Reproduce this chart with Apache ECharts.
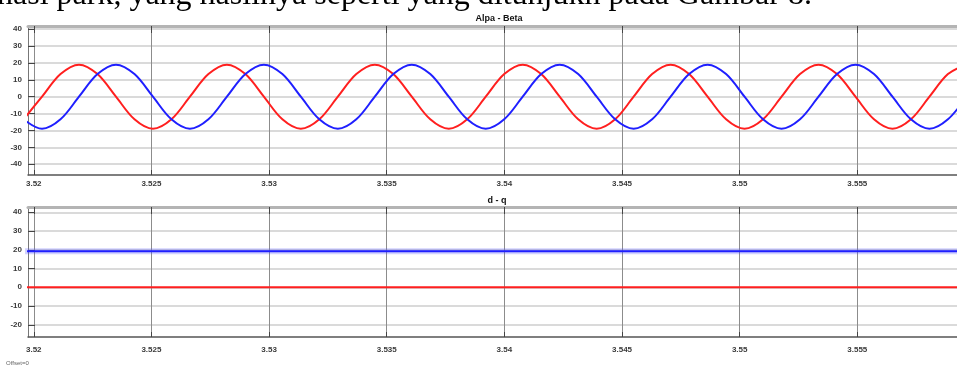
<!DOCTYPE html>
<html>
<head>
<meta charset="utf-8">
<script src="https://cdn.jsdelivr.net/npm/echarts@6/dist/echarts.min.js"></script>
<style>
  html, body { margin: 0; padding: 0; background: #fff; }
  #main { width: 957px; height: 367px; }
</style>
</head>
<body>
<div id="main"></div>
<script>
const timeAB = [
  3.519564, 3.520350, 3.521136, 3.521921, 3.522707, 3.523493, 3.524279, 3.525064,
  3.525850, 3.526636, 3.527422, 3.528207, 3.528993, 3.529779, 3.530565, 3.531350,
  3.532136, 3.532922, 3.533708, 3.534493, 3.535279, 3.536065, 3.536851, 3.537636,
  3.538422, 3.539208, 3.539994, 3.540779, 3.541565, 3.542351, 3.543137, 3.543922,
  3.544708, 3.545494, 3.546280, 3.547065, 3.547851, 3.548637, 3.549423, 3.550208,
  3.550994, 3.551780, 3.552566, 3.553351, 3.554137, 3.554923, 3.555709, 3.556494,
  3.557280, 3.558066, 3.558852, 3.559637
];
const alpha = [
  -13.4, 0, 13.4, 19, 13.4, 0, -13.4, -19,
  -13.4, 0, 13.4, 19, 13.4, 0, -13.4, -19,
  -13.4, 0, 13.4, 19, 13.4, 0, -13.4, -19,
  -13.4, 0, 13.4, 19, 13.4, 0, -13.4, -19,
  -13.4, 0, 13.4, 19, 13.4, 0, -13.4, -19,
  -13.4, 0, 13.4, 19, 13.4, 0, -13.4, -19,
  -13.4, 0, 13.4, 19
];
const beta = [
  -13.4, -19, -13.4, 0, 13.4, 19, 13.4, 0,
  -13.4, -19, -13.4, 0, 13.4, 19, 13.4, 0,
  -13.4, -19, -13.4, 0, 13.4, 19, 13.4, 0,
  -13.4, -19, -13.4, 0, 13.4, 19, 13.4, 0,
  -13.4, -19, -13.4, 0, 13.4, 19, 13.4, 0,
  -13.4, -19, -13.4, 0, 13.4, 19, 13.4, 0,
  -13.4, -19, -13.4, 0
];

// d - q trace
const timeDQ = [3.5190, 3.5300, 3.5400, 3.5500, 3.5600];
const dValues = [19.2, 19.2, 19.2, 19.2, 19.2];
const qValues = [0, 0, 0, 0, 0];

const xTickLabels = ['3.52', '3.525', '3.53', '3.535', '3.54', '3.545', '3.55', '3.555'];
const yTicksAB = [-40, -30, -20, -10, 0, 10, 20, 30, 40];
const yTicksDQ = [-20, -10, 0, 10, 20, 30, 40];

const xTicks = xTickLabels.map(Number);
const X_MIN = 3.519754, X_MAX = 3.559237;
const labelFont = { fontFamily: 'Liberation Sans', fontWeight: 'bold', fontSize: 8, color: '#3a3a3a' };

function pairs(xs, ys) {
  return xs.map((x, i) => [x, ys[i]]);
}

function bottomXAxis(gridIndex, margin) {
  return {
    type: 'value', gridIndex: gridIndex, position: 'bottom',
    min: X_MIN, max: X_MAX,
    axisLine: { show: true, onZero: false, lineStyle: { color: '#555', width: 1.5 } },
    axisTick: { show: true, inside: true, length: 5, customValues: xTicks, lineStyle: { color: '#444' } },
    axisLabel: Object.assign({ customValues: xTicks, margin: margin, formatter: v => String(v) }, labelFont),
    splitLine: { show: true, lineStyle: { color: '#8c8c8c', width: 1 } }
  };
}

function topXAxis(gridIndex) {
  return {
    type: 'value', gridIndex: gridIndex, position: 'top',
    min: X_MIN, max: X_MAX,
    axisLine: { show: true, onZero: false, lineStyle: { color: '#b4b4b4', width: 3 } },
    axisTick: { show: true, inside: true, length: 7, customValues: xTicks, lineStyle: { color: '#444' } },
    axisLabel: { show: false },
    splitLine: { show: false }
  };
}

function yAxis(gridIndex, min, max, ticks) {
  return {
    type: 'value', gridIndex: gridIndex, min: min, max: max,
    axisLine: { show: true, onZero: false, lineStyle: { color: '#777', width: 1 } },
    axisTick: { show: true, inside: true, length: 7, customValues: ticks, lineStyle: { color: '#444' } },
    axisLabel: Object.assign({ customValues: ticks, margin: 6 }, labelFont),
    splitLine: { show: true, lineStyle: { color: '#dadada', width: 2 } }
  };
}

function line(name, xi, yi, data, color, width, opacity) {
  return {
    name: name, type: 'line', xAxisIndex: xi, yAxisIndex: yi,
    data: data, showSymbol: false, smooth: 0.33,
    lineStyle: { color: color, width: width, opacity: opacity },
    emphasis: { disabled: true }, z: 3
  };
}

let chart = echarts.init(document.getElementById('main'));
chart.setOption({
  animation: false,
  backgroundColor: '#fff',
  grid: [
    { left: 28, top: 26, right: 0, height: 149 },
    { left: 28, top: 207, right: 0, height: 130 }
  ],
  xAxis: [bottomXAxis(0, 5), topXAxis(0), bottomXAxis(1, 9), topXAxis(1)],
  yAxis: [yAxis(0, -46.4, 41.9, yTicksAB), yAxis(1, -26.5, 42.8, yTicksDQ)],
  series: [
    line('alpha', 0, 0, pairs(timeAB, alpha), '#ff1f1f', 2, 1),
    line('beta', 0, 0, pairs(timeAB, beta), '#1f1fff', 2, 1),
    line('d band', 2, 1, pairs(timeDQ, dValues), '#4a4aff', 6, 0.25),
    line('d', 2, 1, pairs(timeDQ, dValues), '#1f1fff', 2, 1),
    line('q', 2, 1, pairs(timeDQ, qValues), '#ff1f1f', 2, 1)
  ],
  graphic: [
    { type: 'text', x: -3, y: -4, z: 0, style: { text: 'nasi park, yang hasilnya seperti yang ditunjukn pada Gambar 8.', font: '32px "Liberation Serif"', fill: '#000', verticalAlign: 'middle' } },
    { type: 'text', x: 499, y: 19, style: { text: 'Alpa - Beta', font: 'bold 9px "Liberation Sans"', fill: '#111', align: 'center', verticalAlign: 'middle' } },
    { type: 'text', x: 497, y: 201, style: { text: 'd - q', font: 'bold 9px "Liberation Sans"', fill: '#111', align: 'center', verticalAlign: 'middle' } },
    { type: 'text', x: 6, y: 363, style: { text: 'Offset=0', font: '6px "Liberation Sans"', fill: '#666', verticalAlign: 'middle' } }
  ]
});
</script>
</body>
</html>
